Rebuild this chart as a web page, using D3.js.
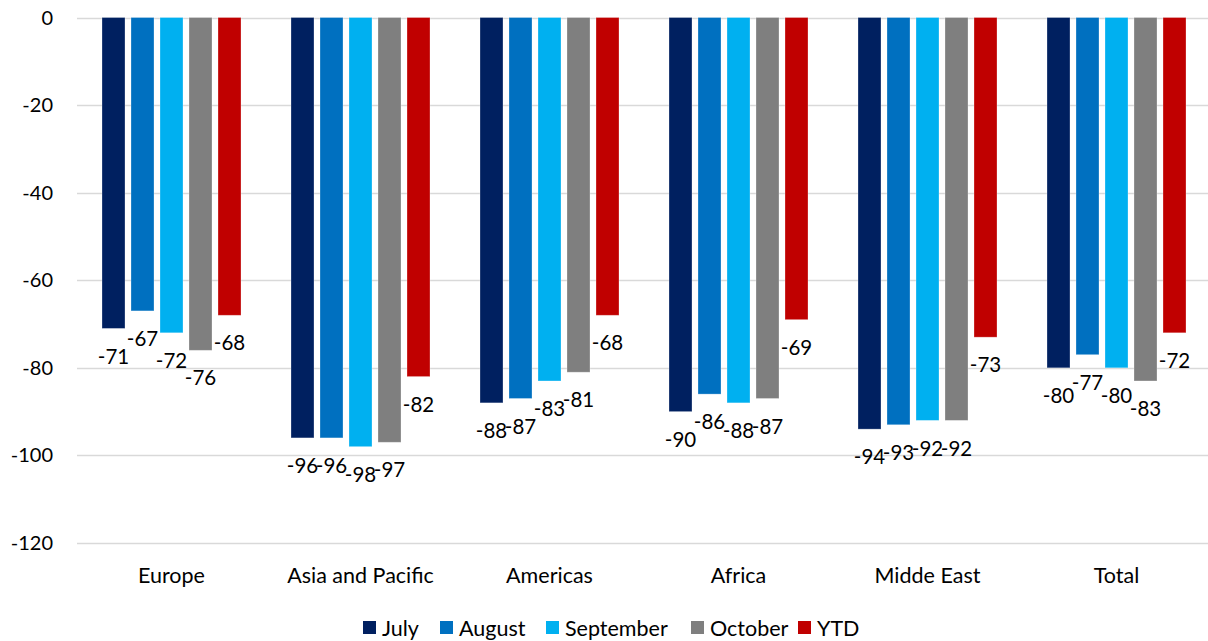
<!DOCTYPE html>
<html>
<head>
<meta charset="utf-8">
<script src="https://cdn.jsdelivr.net/npm/d3@7"></script>
<style>
  html, body { margin: 0; padding: 0; background: #ffffff; }
  svg { display: block; font-family: Lato, "Open Sans", sans-serif; }
</style>
</head>
<body>
<svg id="chart" width="1208" height="641"></svg>
<script>
// Regions along the x axis
const categories = ["Europe", "Asia and Pacific", "Americas", "Africa", "Midde East", "Total"];

// One list of values per period, in region order
const seriesNames = ["July", "August", "September", "October", "YTD"];
const july      = [-71, -96, -88, -90, -94, -80];
const august    = [-67, -96, -87, -86, -93, -77];
const september = [-72, -98, -83, -88, -92, -80];
const october   = [-76, -97, -81, -87, -92, -83];
const ytd       = [-68, -82, -68, -69, -73, -72];
const seriesValues = [july, august, september, october, ytd];

const seriesColors = ["#002060", "#0070C0", "#00B0F0", "#7F7F7F", "#C00000"];
const yTicks = [0, -20, -40, -60, -80, -100, -120];

const svg = d3.select("#chart");
const plot = { left: 77, right: 1211, top: 17.5, bottom: 543 };

const y = d3.scaleLinear().domain([0, -120]).range([plot.top, plot.bottom]);
const x0 = d3.scaleBand().domain(categories).range([plot.left, plot.right]).padding(0);
const x1 = d3.scaleBand().domain(seriesNames).range([0, x0.bandwidth()])
  .paddingInner(0.207).paddingOuter(0.862);

// Horizontal gridlines
svg.append("g").selectAll("line").data(yTicks).join("line")
  .attr("x1", plot.left).attr("x2", plot.right)
  .attr("y1", d => Math.round(y(d)) + 0.5).attr("y2", d => Math.round(y(d)) + 0.5)
  .attr("stroke", "#d9d9d9").attr("stroke-width", 1.3);

// Y axis tick labels
svg.append("g").selectAll("text").data(yTicks).join("text")
  .attr("x", 53).attr("y", d => y(d))
  .attr("dy", "0.35em").attr("text-anchor", "end")
  .attr("font-size", 20).attr("fill", "#000")
  .text(d => d);

// Category labels
svg.append("g").selectAll("text").data(categories).join("text")
  .attr("x", d => x0(d) + x0.bandwidth() / 2).attr("y", 575)
  .attr("dy", "0.35em").attr("text-anchor", "middle")
  .attr("font-size", 21.5).attr("fill", "#000")
  .text(d => d);

// Bars and value labels
const records = [];
categories.forEach((c, i) => {
  seriesNames.forEach((s, j) => {
    records.push({ cat: c, series: s, color: seriesColors[j], value: seriesValues[j][i] });
  });
});

const groups = svg.append("g");
groups.selectAll("rect").data(records).join("rect")
  .attr("x", d => x0(d.cat) + x1(d.series))
  .attr("y", y(0))
  .attr("width", x1.bandwidth())
  .attr("height", d => y(d.value) - y(0))
  .attr("fill", d => d.color)
  .attr("stroke", "rgba(255,255,255,0.35)")
  .attr("stroke-width", 0.8);

groups.selectAll("text").data(records).join("text")
  .attr("x", d => x0(d.cat) + x1(d.series) + x1.bandwidth() / 2)
  .attr("y", d => y(d.value) + 28)
  .attr("dy", "0.35em").attr("text-anchor", "middle")
  .attr("font-size", 20.5).attr("fill", "#000")
  .text(d => d.value);

// Legend
const legendX = [363, 440, 546, 691, 798];
const legend = svg.append("g").selectAll("g").data(seriesNames).join("g")
  .attr("transform", (d, i) => `translate(${legendX[i]},628)`);
legend.append("rect")
  .attr("x", 0).attr("y", -7).attr("width", 13).attr("height", 13)
  .attr("fill", (d, i) => seriesColors[i]);
legend.append("text")
  .attr("x", 19).attr("y", 0).attr("dy", "0.35em")
  .attr("font-size", 21.5).attr("fill", "#000")
  .text(d => d);
</script>
</body>
</html>
